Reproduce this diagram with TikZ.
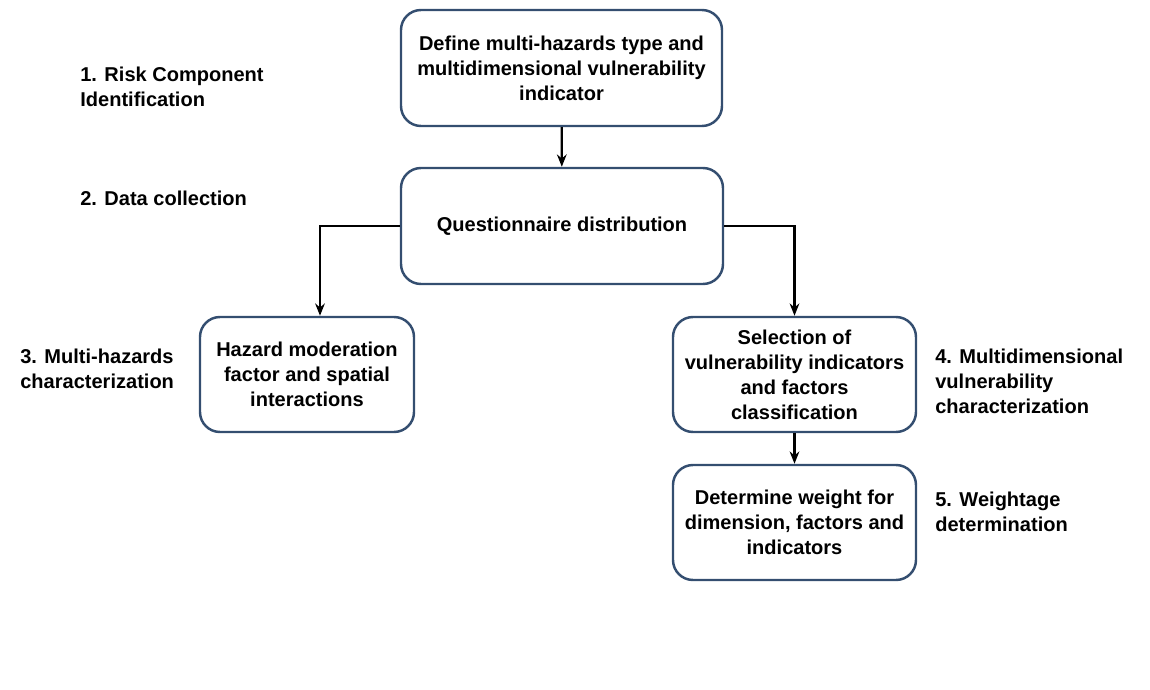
\documentclass[tikz,border=0pt]{standalone}
\usepackage{fontspec}
\setmainfont{Liberation Sans}
\usetikzlibrary{arrows.meta}
\definecolor{boxline}{RGB}{52,78,112}
\begin{document}
\begin{tikzpicture}
  \tikzstyle{flow_box}   = [shape = rectangle, rounded corners = 0.4cm, draw = boxline, line width = 1.4pt,
                            align = center, font = \bfseries\fontsize{11.4}{14.2}\selectfont, inner sep = 2pt]
  \tikzstyle{flow_label} = [anchor = west, align = left, inner sep = 0pt,
                            font = \bfseries\fontsize{11.4}{14.2}\selectfont]
  \tikzstyle{flow_arrow} = [-{Stealth[length=7pt,width=5.5pt]}, line width = 1.3pt, black]

  \useasboundingbox (0,0) rectangle (23,-13.8);

  \node[flow_box, minimum width = 6.42cm, minimum height = 2.32cm] at (11.23,-1.36) (n1)
    {Define multi-hazards type and\\ multidimensional vulnerability\\ indicator};
  \node[flow_label] at (1.6,-1.74) (l1) {1. Risk Component\\ Identification};

  \node[flow_box, minimum width = 6.44cm, minimum height = 2.32cm] at (11.24,-4.52) (n2)
    {Questionnaire distribution};
  \node[flow_label] at (1.6,-3.96) (l2) {2. Data collection};

  \node[flow_box, minimum width = 4.28cm, minimum height = 2.30cm] at (6.14,-7.49) (n3)
    {Hazard moderation\\ factor and spatial\\ interactions};
  \node[flow_label] at (0.4,-7.38) (l3) {3. Multi-hazards\\ characterization};

  \node[flow_box, minimum width = 4.86cm, minimum height = 2.30cm] at (15.89,-7.49) (n4)
    {Selection of\\ vulnerability indicators\\ and factors\\ classification};
  \node[flow_label] at (18.7,-7.62) (l4) {4. Multidimensional\\ vulnerability\\ characterization};

  \node[flow_box, minimum width = 4.86cm, minimum height = 2.30cm] at (15.89,-10.45) (n5)
    {Determine weight for\\ dimension, factors and\\ indicators};
  \node[flow_label] at (18.7,-10.24) (l5) {5. Weightage\\ determination};

  \draw[flow_arrow] (n1) -- (n2);
  \draw[flow_arrow] (n4) -- (n5);

  \draw[flow_arrow] (n2.west) -| ([xshift=0.26cm]n3.north);
  \draw[flow_arrow] (n2.east) -| (n4.north);

\end{tikzpicture}
\end{document}
